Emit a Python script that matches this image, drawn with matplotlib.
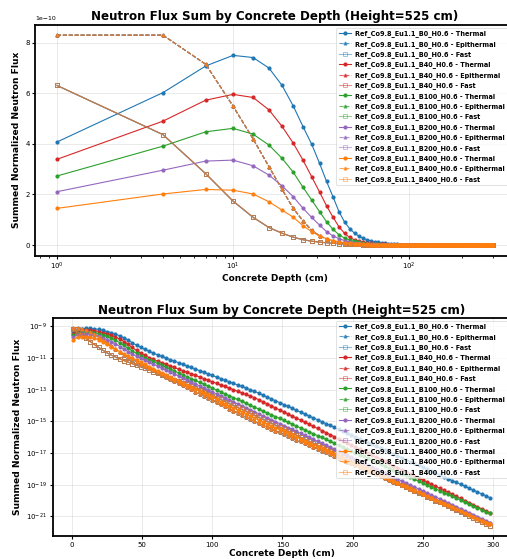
"""Neutron flux sum vs concrete depth: log-x linear-y panel on top, linear-x log-y below."""
import numpy as np
import matplotlib

matplotlib.use("Agg")
import matplotlib.pyplot as plt

# depth bins (cm), one point every 3 cm
depth_cm = np.arange(1, 300, 3)

boron_cases = ["B0", "B40", "B100", "B200", "B400"]
case_colors = ["#1f77b4", "#d62728", "#2ca02c", "#9467bd", "#ff7f0e"]

# log10 of summed normalized flux
thermal_b0 = [
    -9.39, -9.22, -9.15, -9.125, -9.13, -9.155, -9.20, -9.26, -9.33, -9.40,
    -9.49, -9.60, -9.72, -9.88, -10.04, -10.19, -10.33, -10.46, -10.58, -10.69,
    -10.80, -10.90, -11.00, -11.10, -11.20, -11.30, -11.40, -11.50, -11.60, -11.70,
    -11.80, -11.90, -12.00, -12.10, -12.20, -12.30, -12.40, -12.50, -12.60, -12.70,
    -12.80, -12.90, -13.00, -13.10, -13.22, -13.34, -13.46, -13.58, -13.70, -13.82,
    -13.94, -14.06, -14.18, -14.30, -14.42, -14.54, -14.66, -14.78, -14.90, -15.02,
    -15.14, -15.26, -15.38, -15.50, -15.62, -15.74, -15.86, -15.98, -16.10, -16.22,
    -16.34, -16.46, -16.58, -16.70, -16.82, -16.94, -17.06, -17.18, -17.30, -17.42,
    -17.54, -17.66, -17.78, -17.90, -18.02, -18.14, -18.26, -18.38, -18.50, -18.62,
    -18.74, -18.86, -18.98, -19.10, -19.22, -19.34, -19.46, -19.58, -19.70, -19.82,
]
thermal_b40 = [
    -9.47, -9.31, -9.242, -9.225, -9.234, -9.272, -9.329, -9.395, -9.475, -9.569,
    -9.678, -9.81, -9.959, -10.143, -10.337, -10.52, -10.69, -10.84, -10.97, -11.09,
    -11.20, -11.30, -11.40, -11.50, -11.60, -11.70, -11.80, -11.90, -12.00, -12.10,
    -12.20, -12.30, -12.40, -12.50, -12.60, -12.70, -12.80, -12.90, -13.00, -13.10,
    -13.20, -13.30, -13.40, -13.50, -13.63, -13.76, -13.89, -14.02, -14.15, -14.28,
    -14.41, -14.54, -14.67, -14.80, -14.93, -15.06, -15.19, -15.32, -15.45, -15.58,
    -15.71, -15.84, -15.97, -16.10, -16.23, -16.36, -16.49, -16.62, -16.75, -16.88,
    -17.01, -17.14, -17.27, -17.40, -17.53, -17.66, -17.79, -17.92, -18.05, -18.18,
    -18.31, -18.44, -18.57, -18.70, -18.83, -18.96, -19.09, -19.22, -19.35, -19.48,
    -19.61, -19.74, -19.87, -20.00, -20.13, -20.26, -20.39, -20.52, -20.65, -20.78,
]
thermal_b100 = [
    -9.564, -9.408, -9.349, -9.336, -9.358, -9.403, -9.465, -9.541, -9.642, -9.75,
    -9.879, -10.036, -10.208, -10.39, -10.56, -10.71, -10.85, -10.98, -11.10, -11.22,
    -11.34, -11.46, -11.58, -11.70, -11.82, -11.94, -12.06, -12.18, -12.30, -12.42,
    -12.54, -12.66, -12.78, -12.90, -13.02, -13.14, -13.26, -13.38, -13.50, -13.62,
    -13.74, -13.86, -13.98, -14.10, -14.22, -14.34, -14.46, -14.58, -14.70, -14.82,
    -14.94, -15.06, -15.18, -15.30, -15.42, -15.54, -15.66, -15.78, -15.90, -16.02,
    -16.14, -16.26, -16.38, -16.50, -16.62, -16.74, -16.86, -16.98, -17.10, -17.22,
    -17.34, -17.46, -17.58, -17.70, -17.82, -17.94, -18.06, -18.18, -18.30, -18.42,
    -18.54, -18.66, -18.78, -18.90, -19.02, -19.14, -19.26, -19.38, -19.50, -19.62,
    -19.74, -19.86, -19.98, -20.10, -20.22, -20.34, -20.46, -20.58, -20.70, -20.82,
]
thermal_b200 = [
    -9.676, -9.529, -9.479, -9.474, -9.504, -9.558, -9.631, -9.719, -9.839, -9.963,
    -10.102, -10.276, -10.44, -10.60, -10.75, -10.89, -11.02, -11.14, -11.265, -11.39,
    -11.515, -11.64, -11.765, -11.89, -12.015, -12.14, -12.265, -12.39, -12.515, -12.64,
    -12.765, -12.89, -13.015, -13.14, -13.265, -13.39, -13.515, -13.64, -13.765, -13.89,
    -14.015, -14.14, -14.265, -14.39, -14.515, -14.64, -14.765, -14.89, -15.015, -15.14,
    -15.265, -15.39, -15.515, -15.64, -15.765, -15.89, -16.015, -16.14, -16.265, -16.39,
    -16.515, -16.64, -16.765, -16.89, -17.015, -17.14, -17.265, -17.39, -17.515, -17.64,
    -17.765, -17.89, -18.015, -18.14, -18.265, -18.39, -18.515, -18.64, -18.765, -18.89,
    -19.015, -19.14, -19.265, -19.39, -19.515, -19.64, -19.765, -19.89, -20.015, -20.14,
    -20.265, -20.39, -20.515, -20.64, -20.765, -20.89, -21.015, -21.14, -21.265, -21.39,
]
thermal_b400 = [
    -9.839, -9.695, -9.658, -9.664, -9.695, -9.767, -9.86, -9.959, -10.119, -10.276,
    -10.444, -10.60, -10.75, -10.89, -11.02, -11.15, -11.28, -11.41, -11.54, -11.67,
    -11.80, -11.93, -12.06, -12.19, -12.32, -12.45, -12.58, -12.71, -12.84, -12.97,
    -13.10, -13.23, -13.36, -13.49, -13.62, -13.75, -13.88, -14.01, -14.14, -14.27,
    -14.40, -14.53, -14.66, -14.79, -14.91, -15.03, -15.15, -15.27, -15.39, -15.51,
    -15.63, -15.75, -15.87, -15.99, -16.11, -16.23, -16.35, -16.47, -16.59, -16.71,
    -16.83, -16.95, -17.07, -17.19, -17.31, -17.43, -17.55, -17.67, -17.79, -17.91,
    -18.03, -18.15, -18.27, -18.39, -18.51, -18.63, -18.75, -18.87, -18.99, -19.11,
    -19.23, -19.35, -19.47, -19.59, -19.71, -19.83, -19.95, -20.07, -20.19, -20.31,
    -20.43, -20.55, -20.67, -20.79, -20.91, -21.03, -21.15, -21.27, -21.39, -21.51,
]
# epithermal and fast groups overlap for every boron case
epithermal_all = [
    -9.081, -9.081, -9.146, -9.26, -9.377, -9.509, -9.658, -9.839, -10.022, -10.237,
    -10.44, -10.63, -10.80, -10.95, -11.09, -11.23, -11.36, -11.50, -11.63, -11.77,
    -11.90, -12.04, -12.17, -12.31, -12.44, -12.58, -12.71, -12.85, -12.98, -13.12,
    -13.25, -13.39, -13.52, -13.66, -13.79, -13.93, -14.06, -14.20, -14.33, -14.47,
    -14.60, -14.74, -14.87, -15.01, -15.12, -15.24, -15.35, -15.47, -15.58, -15.70,
    -15.81, -15.93, -16.04, -16.16, -16.27, -16.39, -16.50, -16.62, -16.73, -16.85,
    -16.96, -17.08, -17.19, -17.31, -17.42, -17.54, -17.65, -17.77, -17.88, -18.00,
    -18.11, -18.23, -18.34, -18.46, -18.57, -18.69, -18.80, -18.92, -19.03, -19.15,
    -19.26, -19.38, -19.49, -19.61, -19.72, -19.84, -19.95, -20.07, -20.18, -20.30,
    -20.41, -20.53, -20.64, -20.76, -20.87, -20.99, -21.10, -21.22, -21.33, -21.45,
]
fast_all = [
    -9.20, -9.36, -9.55, -9.76, -9.96, -10.16, -10.33, -10.51, -10.68, -10.82,
    -10.94, -11.05, -11.16, -11.26, -11.36, -11.46, -11.56, -11.66, -11.76, -11.86,
    -11.96, -12.06, -12.16, -12.26, -12.36, -12.46, -12.56, -12.67, -12.78, -12.89,
    -13.00, -13.12, -13.25, -13.37, -13.50, -13.62, -13.75, -13.87, -14.00, -14.12,
    -14.25, -14.37, -14.50, -14.62, -14.75, -14.87, -15.00, -15.12, -15.25, -15.37,
    -15.50, -15.62, -15.75, -15.87, -16.00, -16.12, -16.25, -16.37, -16.50, -16.62,
    -16.75, -16.87, -17.00, -17.12, -17.25, -17.37, -17.50, -17.62, -17.75, -17.87,
    -18.00, -18.12, -18.25, -18.37, -18.50, -18.62, -18.75, -18.87, -19.00, -19.12,
    -19.25, -19.37, -19.50, -19.62, -19.75, -19.87, -20.00, -20.12, -20.25, -20.37,
    -20.50, -20.62, -20.75, -20.87, -21.00, -21.12, -21.25, -21.37, -21.50, -21.62,
]

thermal_by_case = [thermal_b0, thermal_b40, thermal_b100, thermal_b200, thermal_b400]

plt.rcParams.update(
    {
        "font.family": "DejaVu Sans",
        "axes.linewidth": 1.3,
        "xtick.labelsize": 5,
        "ytick.labelsize": 5,
        "xtick.major.size": 2.5,
        "ytick.major.size": 2.5,
        "xtick.minor.size": 1.5,
        "ytick.minor.size": 1.5,
    }
)

fig = plt.figure(figsize=(5.07, 5.59), dpi=100)
ax_top = fig.add_axes([0.0694, 0.5429, 0.945, 0.413])
ax_bot = fig.add_axes([0.1037, 0.041, 0.904, 0.3907])


def draw_series(ax):
    for case, color, thermal in zip(boron_cases, case_colors, thermal_by_case):
        name = f"Ref_Co9.8_Eu1.1_{case}_H0.6"
        ax.plot(depth_cm, 10.0 ** np.array(thermal), "-", marker="o", color=color,
                lw=0.8, ms=2.0, label=f"{name} - Thermal")
        ax.plot(depth_cm, 10.0 ** np.array(epithermal_all), "--", marker="^", color=color,
                lw=0.8, ms=2.0, alpha=0.7, label=f"{name} - Epithermal")
        ax.plot(depth_cm, 10.0 ** np.array(fast_all), "-", marker="s", color=color,
                lw=0.8, ms=2.2, mfc="none", mew=0.6, alpha=0.5, label=f"{name} - Fast")


for ax in (ax_top, ax_bot):
    draw_series(ax)
    ax.set_title("Neutron Flux Sum by Concrete Depth (Height=525 cm)",
                 fontsize=8.6, fontweight="bold", pad=3)
    ax.set_xlabel("Concrete Depth (cm)", fontsize=6.5, fontweight="bold", labelpad=1)
    ax.set_ylabel("Summed Normalized Neutron Flux", fontsize=6.6, fontweight="bold", labelpad=3)
    ax.grid(True, color="#b0b0b0", alpha=0.3, lw=0.6)
    ax.tick_params(pad=1.5, width=0.8)
    top_px = ax.get_position().y1
    leg = ax.legend(loc="upper right", bbox_to_anchor=(1.0, top_px - 0.006),
                    bbox_transform=fig.transFigure, borderaxespad=0.0,
                    prop={"size": 4.7, "weight": "bold"}, framealpha=0.8,
                    handlelength=1.9, handletextpad=0.6, labelspacing=0.53, borderpad=0.35)
    leg.get_frame().set_linewidth(0.5)

ax_top.set_xscale("log")
ax_top.yaxis.get_offset_text().set_fontsize(4.5)

ax_bot.set_yscale("log")
ax_bot.set_yticks([1e-9, 1e-11, 1e-13, 1e-15, 1e-17, 1e-19, 1e-21])
ax_bot.set_xticks([0, 50, 100, 150, 200, 250, 300])

fig.savefig("out.png", dpi=100)
